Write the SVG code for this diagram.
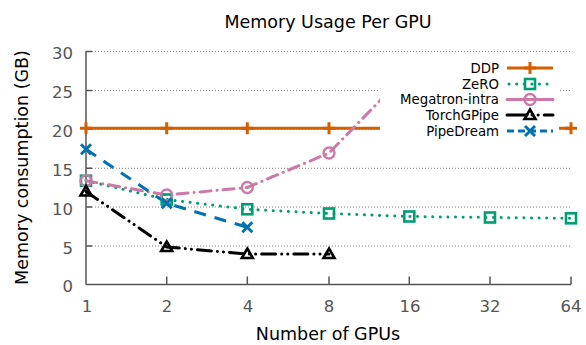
<svg xmlns="http://www.w3.org/2000/svg" xmlns:xlink="http://www.w3.org/1999/xlink" width="586" height="345" viewBox="0 0 586 345">
<style>
text{font-family:"DejaVu Sans","Noto Sans",sans-serif}
.title{font-size:17.5px;fill:#000;text-anchor:middle}
.alab{font-size:17.5px;fill:#000;text-anchor:middle}
.tick{font-size:16.5px;fill:#555}
.ytick{text-anchor:end}
.xtick{text-anchor:middle}
.leg{font-size:13.3px;fill:#000;text-anchor:end}
.grid{stroke:#888;stroke-width:1;stroke-dasharray:1 2;fill:none}
.axis{stroke:#555;stroke-width:1.5;fill:none}
.s{fill:none;stroke-width:3}
.ddp{stroke:#d55e00}
.zero{stroke:#009e73;stroke-dasharray:0.1 7.5;stroke-linecap:round}
.mega{stroke:#cc79a7;stroke-dasharray:11 6 0.1 6;stroke-linecap:round}
.torch{stroke:#000;stroke-dasharray:14 6 0.1 6 0.1 6;stroke-linecap:round}
.pipe{stroke:#0072b2;stroke-dasharray:12 9}
</style>
<defs>
<path id="plus" d="M-6,0H6M0,-6V6" stroke="#d55e00" stroke-width="3" fill="none"/>
<rect id="sq" x="-5" y="-5" width="10" height="10" stroke="#009e73" stroke-width="2.6" fill="none"/>
<circle id="circ" r="5.5" stroke="#cc79a7" stroke-width="2.4" fill="none"/>
<path id="tri" d="M0,-5.5L5.5,4L-5.5,4Z" stroke="#000" stroke-width="2.6" fill="none"/>
<path id="cross" d="M-5,-5L5,5M-5,5L5,-5" stroke="#0072b2" stroke-width="3" fill="none"/>
</defs>

<text class="title" x="328" y="28">Memory Usage Per GPU</text>

<g id="grid">
<line class="grid" x1="86" y1="51.5" x2="571" y2="51.5"/>
<line class="grid" x1="86" y1="90.5" x2="571" y2="90.5"/>
<line class="grid" x1="86" y1="129.3" x2="571" y2="129.3"/>
<line class="grid" x1="86" y1="168.3" x2="571" y2="168.3"/>
<line class="grid" x1="86" y1="207" x2="571" y2="207"/>
<line class="grid" x1="86" y1="246" x2="571" y2="246"/>
</g>

<g id="axes">
<line class="axis" x1="86" y1="51" x2="86" y2="284.5"/>
<line class="axis" x1="86" y1="284.5" x2="571" y2="284.5"/>
<path class="axis" d="M86,51.5h6M86,90.5h6M86,129.3h6M86,168.3h6M86,207h6M86,246h6"/>
<path class="axis" d="M166.7,284.5v-8M247.3,284.5v-8M329,284.5v-8M409.3,284.5v-8M490,284.5v-8M571,284.5v-8"/>
<g class="tick ytick">
<text x="73" y="59">30</text>
<text x="73" y="98">25</text>
<text x="73" y="136.8">20</text>
<text x="73" y="175.8">15</text>
<text x="73" y="214.5">10</text>
<text x="73" y="253.5">5</text>
<text x="73" y="292">0</text>
</g>
<g class="tick xtick">
<text x="87" y="312">1</text>
<text x="167" y="312">2</text>
<text x="248" y="312">4</text>
<text x="329" y="312">8</text>
<text x="410" y="312">16</text>
<text x="490" y="312">32</text>
<text x="571" y="312">64</text>
</g>
<text class="alab" x="328" y="340">Number of GPUs</text>
<text class="alab" transform="translate(28,167.5) rotate(-90)">Memory consumption (GB)</text>
</g>

<g id="connectors">
<polyline class="s ddp" points="86,128.3 166.7,128.3 247.3,128.3 329,128.3 409.3,128.3 490,128.3 571,128.3"/>
<polyline class="s zero" points="86,180.7 166.7,199.5 247.3,209.3 329,213.5 409.3,216.5 490,217.5 571,218.3"/>
<polyline class="s mega" points="86,180.7 166.7,195 247.3,187.5 329,153 409.3,70.5"/>
<polyline class="s torch" points="86,191.5 166.7,247 247.3,254 329,254"/>
<polyline class="s pipe" points="86,149.3 166.7,203.3 247.3,227.3"/>
</g>

<g id="DDP">
<use xlink:href="#plus" x="86" y="128.3"/><use xlink:href="#plus" x="166.7" y="128.3"/><use xlink:href="#plus" x="247.3" y="128.3"/><use xlink:href="#plus" x="329" y="128.3"/><use xlink:href="#plus" x="409.3" y="128.3"/><use xlink:href="#plus" x="490" y="128.3"/><use xlink:href="#plus" x="571" y="128.3"/>
</g>
<g id="ZeRO">
<use xlink:href="#sq" x="86" y="180.7"/><use xlink:href="#sq" x="166.7" y="199.5"/><use xlink:href="#sq" x="247.3" y="209.3"/><use xlink:href="#sq" x="329" y="213.5"/><use xlink:href="#sq" x="409.3" y="216.5"/><use xlink:href="#sq" x="490" y="217.5"/><use xlink:href="#sq" x="571" y="218.3"/>
</g>
<g id="Megatron-intra">
<use xlink:href="#circ" x="86" y="180.7"/><use xlink:href="#circ" x="166.7" y="195"/><use xlink:href="#circ" x="247.3" y="187.5"/><use xlink:href="#circ" x="329" y="153"/>
</g>
<g id="TorchGPipe">
<use xlink:href="#tri" x="86" y="191.5"/><use xlink:href="#tri" x="166.7" y="247"/><use xlink:href="#tri" x="247.3" y="254"/><use xlink:href="#tri" x="329" y="254"/>
</g>
<g id="PipeDream">
<use xlink:href="#cross" x="86" y="149.3"/><use xlink:href="#cross" x="166.7" y="203.3"/><use xlink:href="#cross" x="247.3" y="227.3"/>
</g>

<g id="legend">
<rect x="380" y="56" width="179" height="85" fill="#fff"/>
<text class="leg" x="499" y="72.5">DDP</text>
<text class="leg" x="499" y="88.5">ZeRO</text>
<text class="leg" x="499" y="104">Megatron-intra</text>
<text class="leg" x="499" y="119.5">TorchGPipe</text>
<text class="leg" x="499" y="135.5">PipeDream</text>
<line class="s ddp" x1="507" y1="68" x2="553" y2="68"/>
<use xlink:href="#plus" x="530" y="68"/>
<line class="s zero" x1="509" y1="84" x2="553" y2="84"/>
<use xlink:href="#sq" x="530" y="84"/>
<line class="s mega" x1="507" y1="99.5" x2="553" y2="99.5" style="stroke-dasharray:none"/>
<use xlink:href="#circ" x="530" y="99.5"/>
<line class="s torch" x1="507" y1="115" x2="553" y2="115" style="stroke-dasharray:20 5 0.1 6 0.1 6"/>
<use xlink:href="#tri" x="530" y="115"/>
<line class="s pipe" x1="507" y1="131" x2="553" y2="131" style="stroke-dasharray:7 4"/>
<use xlink:href="#cross" x="530" y="131"/>
</g>
</svg>
